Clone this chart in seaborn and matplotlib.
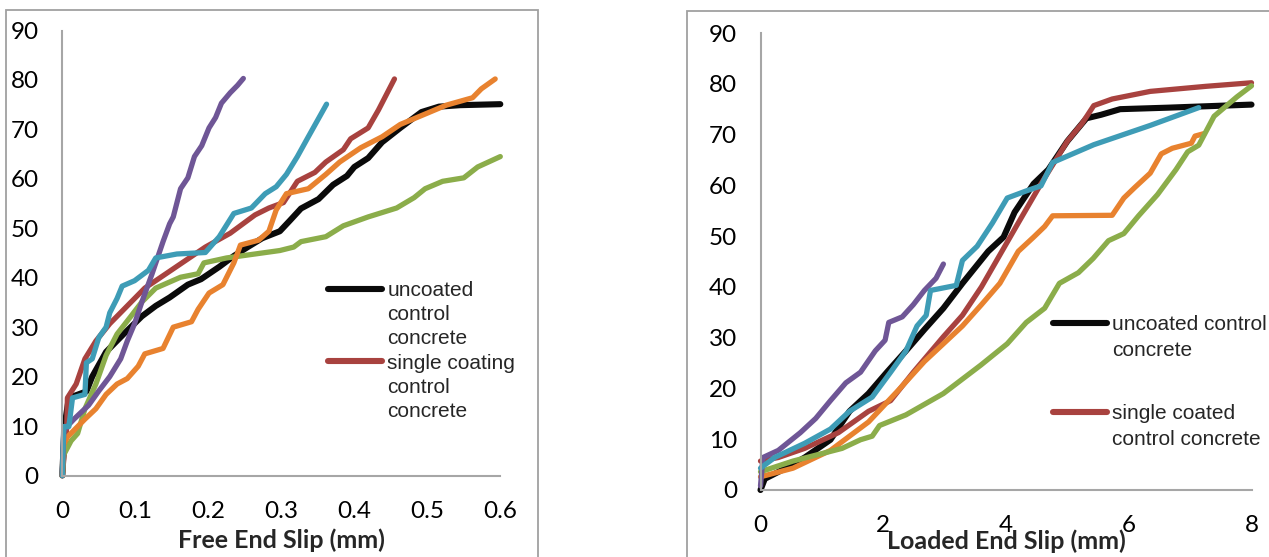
import matplotlib
matplotlib.use("Agg")
import matplotlib.pyplot as plt
from matplotlib.lines import Line2D
from matplotlib.patches import Rectangle
import seaborn as sns
import pandas as pd

# ---------------- data: Free End Slip (left) ----------------
fe_black_x = [0, 0.003, 0.009, 0.033, 0.041, 0.06, 0.084, 0.109, 0.128, 0.147, 0.172, 0.19, 0.215, 0.235, 0.254, 0.274, 0.298, 0.312, 0.327, 0.351, 0.371, 0.39, 0.4, 0.419, 0.438, 0.463, 0.482, 0.492, 0.516, 0.545, 0.6]
fe_black_y = [0, 10, 15.7, 17, 20, 25, 28.6, 32.2, 34.3, 36, 38.6, 39.7, 42.2, 44.4, 46.2, 48, 49.4, 51.6, 54, 55.9, 58.8, 60.6, 62.4, 64.2, 67.4, 70.3, 72.4, 73.5, 74.6, 74.9, 75.1]
fe_red_x = [0, 0.006, 0.007, 0.019, 0.031, 0.046, 0.065, 0.089, 0.113, 0.138, 0.167, 0.196, 0.23, 0.264, 0.283, 0.303, 0.322, 0.346, 0.361, 0.385, 0.395, 0.419, 0.433, 0.455]
fe_red_y = [0, 9.5, 15.7, 18.5, 23.6, 27.2, 30.7, 34.3, 37.9, 40.4, 43.3, 46.2, 49, 52.7, 54.1, 55.2, 59.5, 61.3, 63.4, 65.9, 68.1, 70.3, 73.9, 80.2]
fe_orange_x = [0, 0.002, 0.007, 0.021, 0.031, 0.046, 0.06, 0.075, 0.089, 0.104, 0.113, 0.138, 0.152, 0.177, 0.186, 0.201, 0.22, 0.235, 0.244, 0.269, 0.283, 0.293, 0.307, 0.337, 0.361, 0.38, 0.409, 0.438, 0.463, 0.497, 0.526, 0.562, 0.574, 0.593]
fe_orange_y = [0, 6.3, 7.8, 9.9, 11.4, 13.5, 16.4, 18.5, 19.6, 22.1, 24.6, 25.7, 30, 31.1, 33.6, 36.9, 38.6, 43, 46.6, 47.6, 49.4, 53.7, 57, 58, 60.9, 63.4, 66.3, 68.5, 71, 73.1, 74.9, 76.4, 78.2, 80.2]
fe_green_x = [0, 0.002, 0.012, 0.021, 0.031, 0.046, 0.06, 0.075, 0.094, 0.109, 0.128, 0.162, 0.186, 0.194, 0.225, 0.264, 0.298, 0.317, 0.327, 0.361, 0.385, 0.419, 0.458, 0.482, 0.497, 0.521, 0.55, 0.569, 0.6]
fe_green_y = [0, 4.2, 7, 8.5, 13.5, 18.5, 24.3, 28.6, 32.2, 35.1, 37.9, 40.1, 40.8, 43, 44, 44.8, 45.5, 46.2, 47.3, 48.3, 50.5, 52.3, 54.1, 56.2, 58, 59.5, 60.2, 62.4, 64.5]
fe_purple_x = [0, 0.002, 0.016, 0.036, 0.05, 0.065, 0.08, 0.089, 0.099, 0.109, 0.123, 0.138, 0.147, 0.152, 0.162, 0.172, 0.181, 0.191, 0.201, 0.21, 0.218, 0.23, 0.24, 0.248]
fe_purple_y = [0, 9.2, 11.4, 14.2, 17.1, 20, 23.6, 27.2, 30.7, 35.1, 40.8, 47.3, 50.9, 52.3, 58, 60.2, 64.5, 66.7, 70.3, 72.4, 75.3, 77.4, 78.9, 80.3]
fe_cyan_x = [0, 0.002, 0.009, 0.014, 0.031, 0.033, 0.041, 0.05, 0.06, 0.065, 0.075, 0.082, 0.099, 0.118, 0.128, 0.157, 0.196, 0.215, 0.235, 0.259, 0.278, 0.293, 0.307, 0.322, 0.337, 0.362]
fe_cyan_y = [0, 9.9, 9.9, 15.7, 16.4, 22.8, 23.6, 27.9, 30, 32.9, 35.8, 38.3, 39.4, 41.5, 44, 44.8, 45.1, 48.3, 53, 54.1, 57, 58.4, 60.9, 64.5, 68.5, 75.1]

# ---------------- data: Loaded End Slip (right) ----------------
le_black_x = [0, 0.07, 0.41, 0.72, 1.14, 1.45, 1.76, 2.06, 2.37, 2.67, 2.98, 3.29, 3.71, 3.96, 4.14, 4.45, 4.69, 5.0, 5.31, 5.55, 5.86, 6.65, 8.0]
le_black_y = [0, 2.2, 4.3, 6.4, 9.9, 15.5, 19, 23.2, 27.4, 31.6, 35.8, 40.7, 47, 49.8, 54.7, 60.3, 63.1, 68.7, 73.2, 73.9, 75, 75.3, 75.9]
le_red_x = [0, 0.29, 0.72, 1.27, 1.76, 2.12, 2.49, 2.98, 3.29, 3.6, 3.9, 4.2, 4.57, 5.0, 5.24, 5.43, 5.73, 6.35, 7.26, 8.0]
le_red_y = [5.7, 6.4, 8.2, 11.3, 15.5, 17.6, 23.2, 30.2, 34.4, 40, 46.3, 52.6, 60.3, 68.7, 72.2, 75.7, 77, 78.5, 79.5, 80.2]
le_orange_x = [0, 0.53, 1.14, 1.76, 2.25, 2.67, 3.29, 3.6, 3.9, 4.2, 4.45, 4.63, 4.76, 5.73, 5.92, 6.1, 6.35, 6.53, 6.71, 7.02, 7.08, 7.23]
le_orange_y = [2.6, 4.3, 7.8, 13.4, 19.7, 25.3, 32.3, 36.5, 40.7, 47, 49.8, 51.9, 54, 54.1, 57.5, 59.6, 62.4, 66.2, 67.3, 68.3, 69.7, 70.2]
le_green_x = [0, 0.53, 1.33, 1.63, 1.82, 1.94, 2.37, 2.98, 3.59, 4.02, 4.33, 4.63, 4.87, 5.18, 5.42, 5.67, 5.92, 6.16, 6.47, 6.77, 6.96, 7.14, 7.39, 7.76, 8.0]
le_green_y = [3.6, 5.7, 8.2, 9.9, 10.6, 12.7, 14.8, 19, 24.6, 28.8, 33, 35.8, 40.7, 42.8, 45.6, 49.1, 50.5, 54, 58.2, 63.1, 66.6, 67.9, 73.6, 77.4, 79.6]
le_purple_x = [0, 0.04, 0.29, 0.65, 0.9, 1.14, 1.39, 1.63, 1.87, 2.03, 2.09, 2.31, 2.49, 2.67, 2.86, 2.98]
le_purple_y = [0.8, 6.4, 7.8, 11.3, 14.1, 17.6, 21.1, 23.2, 27.4, 29.5, 33, 34.1, 36.5, 39.3, 41.7, 44.5]
le_cyan_x = [0, 0.23, 0.72, 1.14, 1.45, 1.82, 2.12, 2.37, 2.55, 2.7, 2.77, 3.19, 3.29, 3.53, 3.78, 4.02, 4.33, 4.57, 4.76, 5.43, 6.35, 7.14]
le_cyan_y = [4.3, 6.4, 9.2, 12, 15.5, 18.3, 23.2, 27.4, 32.3, 34.4, 39.3, 40.3, 45.2, 48, 52.6, 57.5, 58.9, 59.9, 64.5, 68, 71.8, 75.3]

x_ticks_left = [0, 0.1, 0.2, 0.3, 0.4, 0.5, 0.6]
x_ticks_right = [0, 2, 4, 6, 8]
y_ticks = [0, 10, 20, 30, 40, 50, 60, 70, 80, 90]

left_legend_lines = ["uncoated", "control", "concrete", "single coating", "control", "concrete"]
right_legend_a = ["uncoated control", "concrete"]
right_legend_b = ["single coated", "control concrete"]

COL = {"black": "#0a0a0a", "red": "#a8423f", "orange": "#e8822f",
       "green": "#8bad4a", "purple": "#6f5696", "cyan": "#3e9cb6"}

sns.set_style("white")
plt.rcParams['font.family'] = ['Lato', 'DejaVu Sans']

fig = plt.figure(figsize=(12.69, 5.57), dpi=100)
W, H = 1269, 557

# panel borders
fig.patches.append(Rectangle((6.5 / W, -0.01), (538.3 - 6.5) / W, 1 - 10 / H + 0.01,
                             transform=fig.transFigure, fill=False, ec="#a0a0a0", lw=1.3))
fig.patches.append(Rectangle((686.7 / W, -0.01), 0.5, 1 - 10.7 / H + 0.01,
                             transform=fig.transFigure, fill=False, ec="#a0a0a0", lw=1.3))

axL = fig.add_axes([62.3 / W, (H - 475.5) / H, (500.3 - 62.3) / W, (475.5 - 30.5) / H])
axR = fig.add_axes([760.5 / W, (H - 490) / H, (1251.5 - 760.5) / W, (490 - 33) / H])


def draw(ax, series):
    for xs, ys, c, lw in series:
        df = pd.DataFrame({"x": xs, "y": ys})
        sns.lineplot(data=df, x="x", y="y", ax=ax, sort=False, estimator=None,
                     color=c, lw=lw, solid_capstyle="round", solid_joinstyle="round",
                     clip_on=False)


draw(axL, [
    (fe_black_x, fe_black_y, COL["black"], 4.4),
    (fe_red_x, fe_red_y, COL["red"], 3.8),
    (fe_green_x, fe_green_y, COL["green"], 3.8),
    (fe_orange_x, fe_orange_y, COL["orange"], 3.8),
    (fe_purple_x, fe_purple_y, COL["purple"], 3.8),
    (fe_cyan_x, fe_cyan_y, COL["cyan"], 3.8),
])
draw(axR, [
    (le_black_x, le_black_y, COL["black"], 4.4),
    (le_red_x, le_red_y, COL["red"], 3.8),
    (le_orange_x, le_orange_y, COL["orange"], 3.8),
    (le_green_x, le_green_y, COL["green"], 3.8),
    (le_purple_x, le_purple_y, COL["purple"], 3.8),
    (le_cyan_x, le_cyan_y, COL["cyan"], 3.8),
])

for ax, xt, xl in [(axL, x_ticks_left, 0.6), (axR, x_ticks_right, 8)]:
    ax.set_xlim(0, xl)
    ax.set_ylim(0, 90)
    ax.set_xticks(xt)
    ax.set_yticks(y_ticks)
    ax.set_xticklabels([("%g" % v) for v in xt])
    ax.set_yticklabels([str(v) for v in y_ticks])
    for s in ["top", "right"]:
        ax.spines[s].set_visible(False)
    for s in ["left", "bottom"]:
        ax.spines[s].set_color("#a6a6a6")
        ax.spines[s].set_linewidth(1.5)
    ax.tick_params(axis="both", length=0, labelsize=17.5, colors="#000000")
    ax.tick_params(axis="y", pad=17)
    ax.tick_params(axis="x", pad=18)
    ax.set_ylabel("")
    ax.patch.set_alpha(0)

axL.set_xlabel("Free End Slip (mm)", fontsize=18, fontweight="bold", va="center")
axL.xaxis.set_label_coords(0.5, -(540 - 475.5) / 445)
axR.set_xlabel("Loaded End Slip (mm)", fontsize=18, fontweight="bold", va="center")
axR.xaxis.set_label_coords(0.5, -(541 - 490) / 457)

legfont = {"family": "Liberation Sans", "size": 15}
none = Line2D([], [], color="none")
hb = Line2D([], [], color=COL["black"], lw=4.4, solid_capstyle="round")
hr = Line2D([], [], color=COL["red"], lw=4.4, solid_capstyle="round")

legL = axL.legend([hb, none, none, hr, none, none], left_legend_lines,
                  loc="upper left", bbox_to_anchor=(328 / W, 1 - 281 / H),
                  bbox_transform=fig.transFigure, frameon=False, prop=legfont,
                  handlelength=2.6, handletextpad=0.25, labelspacing=0.25,
                  borderpad=0, borderaxespad=0)
legRa = axR.legend([hb, none], right_legend_a,
                   loc="upper left", bbox_to_anchor=(1053 / W, 1 - 315 / H),
                   bbox_transform=fig.transFigure, frameon=False, prop=legfont,
                   handlelength=2.6, handletextpad=0.25, labelspacing=0.35,
                   borderpad=0, borderaxespad=0)
axR.add_artist(legRa)
legRb = axR.legend([hr, none], right_legend_b,
                   loc="upper left", bbox_to_anchor=(1053 / W, 1 - 404 / H),
                   bbox_transform=fig.transFigure, frameon=False, prop=legfont,
                   handlelength=2.6, handletextpad=0.25, labelspacing=0.35,
                   borderpad=0, borderaxespad=0)

fig.savefig("out.png", dpi=100)
